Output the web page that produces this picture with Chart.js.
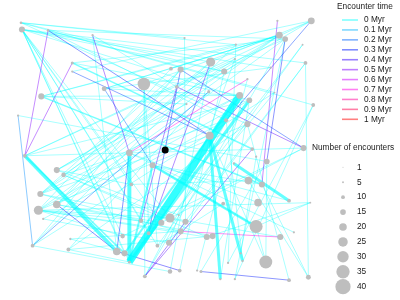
<!DOCTYPE html>
<html>
<head>
<meta charset="utf-8">
<script src="https://cdn.jsdelivr.net/npm/chart.js@4"></script>
<style>
  body { margin: 0; background: #fff; }
  canvas { display: block; }
</style>
</head>
<body>
<canvas id="encounterChart" width="400" height="300"></canvas>
<script>
// star positions (plot units) and number of encounters of each star
const nodeX = [15,16,43,89,68,68,36,101,12,184,142,170,180,176,186,127,280,282,288,237,
               211,236,225,273,249,241,251,277,209,227,249,210,254,315,306,309,317,307,314,312,
               19,52,59,35,52,33,38,66,27,64,151,129,169,160,139,185,178,180,147,120,
               168,156,114,122,127,169,179,197,201,143,235,269,258,250,264,260,224,292,258,297,
               283,207,213,242,244,229,268,221,236,292];
const nodeY = [17,24,25,30,59,68,94,86,114,33,81,65,66,84,102,153,15,30,34,40,
               58,55,68,64,76,93,98,90,89,119,123,135,149,15,40,59,103,148,205,283,
               156,171,176,196,207,213,222,243,250,254,166,186,221,226,224,225,218,235,237,240,
               247,250,256,258,267,277,276,276,277,282,164,162,157,182,186,205,206,203,230,236,
               241,241,240,258,266,268,267,285,285,286];
const nodeCount = [7,16,7,6,8,6,16,13,6,6,33,10,16,10,6,18,6,18,15,6,
                   24,6,16,6,6,18,15,5,8,11,16,21,10,18,5,10,10,16,5,13,
                   10,16,12,16,20,24,6,6,10,10,16,10,24,16,12,16,5,16,10,12,
                   16,10,20,16,8,12,10,6,8,10,6,15,6,20,16,20,10,10,34,6,
                   16,16,16,6,6,6,34,6,6,10];

// the focal star
const focusX = [164];
const focusY = [150];

// encounters: [from star, to star, time (Myr), strength]
const encounters = [
  // strong encounters
  [40,62,0,3.5],[40,63,0,1.5],[64,25,0,7],[64,26,0,3],[63,25,0,2],[64,15,0,4],[64,50,0,2],
  [31,87,0,3],[31,84,0,3],[50,78,0,2.5],[70,77,0,3],[6,74,0,1.5],[4,32,0,1.5],
  // older encounters
  [2,31,0.3,1],[2,40,0.5,1],[4,40,0.5,1],[8,48,0.15,1],[48,28,0.2,1],[5,31,0.25,1],
  [13,54,0.45,1],[16,74,0.5,1],[18,71,0.3,1],[33,29,0.25,1],[13,37,0.45,1],[12,37,0.25,1],
  [24,15,0.7,1],[57,80,0.7,1],[44,62,0.35,1],[32,69,0.45,1],[55,69,0.45,1],[20,58,0.45,1],
  [15,62,0.3,1],[68,89,0.3,1],[62,66,0.35,1],[3,15,0.45,1],[7,50,0.2,1],[12,58,0.3,1],
  // recent weak encounters
  [0,27,0,1],[0,22,0,1],[0,30,0,1],[1,35,0,1],[1,23,0,1],[1,26,0,1],[1,64,0,1],[1,53,0,1],
  [1,51,0,1],[1,59,0,1],[1,58,0,1],[1,52,0,1],[1,61,0,1],[1,63,0,1],[2,36,0,1],[2,18,0,1],
  [2,29,0,1],[3,62,0,1],[3,13,0,1],[4,25,0,1],[6,17,0,1],[8,71,0,1],[7,25,0,1],[7,17,0,1],
  [10,69,0,1],[10,58,0,1],[10,61,0,1],[9,55,0,1],[9,0,0,1],[12,43,0,1],[12,44,0,1],
  [11,45,0,1],[12,48,0,1],[14,41,0,1],[14,6,0,1],[17,7,0,1],[17,10,0,1],[17,11,0,1],
  [17,43,0,1],[17,45,0,1],[17,41,0,1],[18,13,0,1],[18,44,0,1],[18,4,0,1],[33,20,0,1],
  [33,22,0,1],[33,5,0,1],[33,40,0,1],[19,6,0,1],[19,0,0,1],[19,48,0,1],[20,1,0,1],
  [20,44,0,1],[20,43,0,1],[21,42,0,1],[21,40,0,1],[22,1,0,1],[22,41,0,1],[23,7,0,1],
  [25,43,0,1],[25,45,0,1],[26,44,0,1],[26,40,0,1],[25,6,0,1],[27,52,0,1],[27,48,0,1],
  [28,49,0,1],[29,46,0,1],[29,42,0,1],[30,45,0,1],[30,49,0,1],[31,43,0,1],[34,52,0,1],
  [34,61,0,1],[35,60,0,1],[35,57,0,1],[36,85,0,1],[36,88,0,1],[37,53,0,1],[37,40,0,1],
  [37,59,0,1],[38,81,0,1],[38,78,0,1],[38,45,0,1],[39,74,0,1],[39,73,0,1],[39,35,0,1],
  [41,51,0,1],[41,56,0,1],[42,52,0,1],[42,81,0,1],[43,55,0,1],[43,57,0,1],[44,53,0,1],
  [44,82,0,1],[45,54,0,1],[45,59,0,1],[45,52,0,1],[45,81,0,1],[45,57,0,1],[46,60,0,1],
  [47,63,0,1],[49,64,0,1],[49,82,0,1],[47,57,0,1],[48,65,0,1],[66,22,0,1],[68,71,0,1],
  [69,25,0,1],[69,18,0,1],[86,71,0,1],[86,78,0,1],[86,31,0,1],[83,72,0,1],[84,29,0,1],
  [78,50,0,1],[75,15,0,1],[73,51,0,1],[74,50,0,1],[76,61,0,1],[80,52,0,1],[85,19,0,1],
  [87,26,0,1],[88,18,0,1],[89,30,0,1],[60,21,0,1],[65,20,0,1],[67,24,0,1],[79,15,0,1],[77,50,0,1]
];

// legend entries
const timeSteps = [0,0.1,0.2,0.3,0.4,0.5,0.6,0.7,0.8,0.9,1];
const timeLabels = ['0 Myr','0.1 Myr','0.2 Myr','0.3 Myr','0.4 Myr','0.5 Myr','0.6 Myr','0.7 Myr','0.8 Myr','0.9 Myr','1 Myr'];
const countSteps = [1,5,10,15,20,25,30,35,40];

function timeColor(t, alpha) {
    return 'hsla(' + (180 + 180 * t) + ',100%,50%,' + alpha + ')';
}
function countRadius(n) {
    return Math.max(0.5, 0.19 * n);
}

const datasets = [];

encounters.forEach(e => {
    const w = e[3];
    datasets.push({
        data: [{x: nodeX[e[0]], y: nodeY[e[0]]}, {x: nodeX[e[1]], y: nodeY[e[1]]}],
        showLine: true,
        borderColor: timeColor(e[2], w > 1 ? Math.min(0.8, 0.45 + 0.05 * w) : (e[2] > 0 ? 0.5 : 0.38)),
        borderWidth: w > 1 ? w : 0.9,
        pointRadius: 0,
        order: 2
    });
});

datasets.push({
    data: nodeX.map((x, i) => ({x: x, y: nodeY[i]})),
    pointRadius: nodeCount.map(countRadius),
    backgroundColor: '#bebebe',
    borderWidth: 0,
    order: 1
});

datasets.push({
    data: focusX.map((x, i) => ({x: x, y: focusY[i]})),
    pointRadius: 3.5,
    backgroundColor: '#000',
    borderWidth: 0,
    order: 0
});

const legendPlugin = {
    id: 'legends',
    afterDraw(chart) {
        const ctx = chart.ctx;
        ctx.save();
        ctx.font = '8.3px "Liberation Sans", Arial, sans-serif';
        ctx.fillStyle = '#1a1a1a';
        ctx.textBaseline = 'middle';
        ctx.fillText('Encounter time', 337, 7);
        timeSteps.forEach((t, i) => {
            const y = 20 + 9.93 * i;
            ctx.strokeStyle = timeColor(t, 0.5);
            ctx.lineWidth = 1.6;
            ctx.beginPath();
            ctx.moveTo(342, y);
            ctx.lineTo(358, y);
            ctx.stroke();
            ctx.fillStyle = '#1a1a1a';
            ctx.fillText(timeLabels[i], 364, y);
        });
        ctx.fillText('Number of encounters', 312, 148);
        countSteps.forEach((n, i) => {
            const y = 167.3 + 14.92 * i;
            ctx.fillStyle = '#bebebe';
            ctx.beginPath();
            ctx.arc(343, y, countRadius(n), 0, Math.PI * 2);
            ctx.fill();
            ctx.fillStyle = '#1a1a1a';
            ctx.fillText(String(n), 357, y);
        });
        ctx.restore();
    }
};

new Chart(document.getElementById('encounterChart').getContext('2d'), {
    type: 'scatter',
    data: { datasets: datasets },
    options: {
        responsive: false,
        animation: false,
        events: [],
        layout: { padding: 0 },
        plugins: { legend: { display: false }, tooltip: { enabled: false } },
        scales: {
            x: { display: false, min: 0, max: 400 },
            y: { display: false, min: 0, max: 300, reverse: true }
        }
    },
    plugins: [legendPlugin]
});
</script>
</body>
</html>
